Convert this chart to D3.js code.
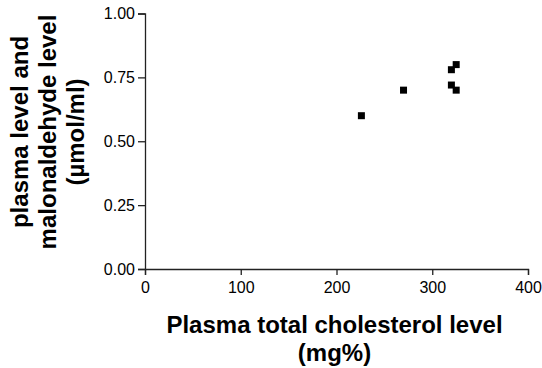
<!DOCTYPE html>
<html>
<head>
<meta charset="utf-8">
<script src="https://d3js.org/d3.v7.min.js"></script>
<style>
  body { margin: 0; background: #fff; }
  svg text { font-family: Arial, "Liberation Sans", sans-serif; }
  .tick text { font-size: 16px; fill: #000; }
  .axis-title { font-size: 24px; font-weight: bold; fill: #000; }
</style>
</head>
<body>
<div id="chart"></div>
<script>
// cholesterol (mg%) vs malonaldehyde (umol/ml)
var cholesterol = [226, 270, 325, 320, 320, 325];
var malonaldehyde = [0.60, 0.70, 0.80, 0.78, 0.72, 0.70];
var xTicks = [0, 100, 200, 300, 400];
var yTicks = [0, 0.25, 0.5, 0.75, 1.0];

var W = 542, H = 368;
var margin = {top: 13.5, right: 14, bottom: 99, left: 145};
var width = W - margin.left - margin.right,
    height = H - margin.top - margin.bottom;

var svg = d3.select("#chart").append("svg")
    .attr("width", W)
    .attr("height", H);

var g = svg.append("g")
    .attr("transform", "translate(" + margin.left + "," + margin.top + ")");

var x = d3.scaleLinear().domain([0, 400]).range([0, width]);
var y = d3.scaleLinear().domain([0, 1]).range([height, 0]);

var xAxis = g.append("g")
    .attr("transform", "translate(0," + height + ")")
    .call(d3.axisBottom(x).tickValues(xTicks).tickSize(6).tickPadding(7).tickFormat(d3.format("d")));

var yAxis = g.append("g")
    .call(d3.axisLeft(y).tickValues(yTicks).tickSize(7).tickPadding(3).tickFormat(d3.format(".2f")));

g.selectAll(".domain, .tick line")
    .attr("stroke", "#222")
    .attr("stroke-width", 1.3);
g.selectAll(".tick text").attr("font-family", null).attr("font-size", null);

// points: small black squares
var s = 7;
g.append("g").selectAll("rect")
  .data(cholesterol)
  .enter().append("rect")
    .attr("x", function(d) { return x(d) - s / 2; })
    .attr("y", function(d, i) { return y(malonaldehyde[i]) - s / 2; })
    .attr("width", s)
    .attr("height", s)
    .attr("fill", "#000");

// x title
var xt = svg.append("text")
    .attr("class", "axis-title")
    .attr("text-anchor", "middle")
    .attr("x", margin.left + width / 2 - 2)
    .attr("y", 332.5);
xt.append("tspan").attr("x", margin.left + width / 2 - 2).text("Plasma total cholesterol level");
xt.append("tspan").attr("x", margin.left + width / 2 - 2).attr("dy", 28).text("(mg%)");

// y title
var yt = svg.append("text")
    .attr("class", "axis-title")
    .attr("text-anchor", "middle")
    .attr("transform", "translate(28,132) rotate(-90)");
yt.append("tspan").attr("x", 0).attr("y", 0).text("plasma level and");
yt.append("tspan").attr("x", 0).attr("dy", 28).text("malonaldehyde level");
yt.append("tspan").attr("x", 0).attr("dy", 28).text("(\u00b5mol/ml)");
</script>
</body>
</html>
